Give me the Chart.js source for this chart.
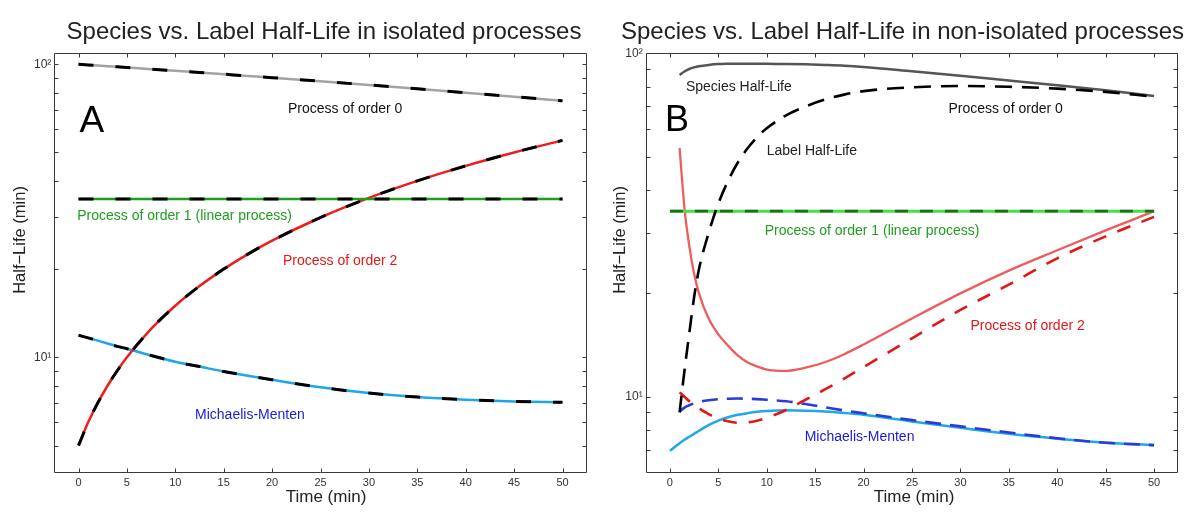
<!DOCTYPE html>
<html><head><meta charset="utf-8">
<script src="https://cdn.jsdelivr.net/npm/chart.js@4.4.1/dist/chart.umd.min.js"></script>
<style>
html,body{margin:0;padding:0;background:#fff;width:1200px;height:530px;overflow:hidden;position:relative}
canvas{position:absolute;top:0}
#ca{left:0}
#cb{left:604px}
</style></head><body>
<canvas id="ca" width="648" height="530"></canvas>
<canvas id="cb" width="596" height="530"></canvas>
<script>
// ---------- DATA ----------
const xTicks = [0, 5, 10, 15, 20, 25, 30, 35, 40, 45, 50];
const yMajor = [10, 100];
const yMajorLabels = ['10\u00B9', '10\u00B2'];
const yTicksA = [5, 6, 7, 8, 9, 10, 20, 30, 40, 50, 60, 70, 80, 90, 100];
const yTicksB = [7, 8, 9, 10, 20, 30, 40, 50, 60, 70, 80, 90, 100];

// Panel A: isolated processes (species and label half-lives coincide)
const timeA   = [0, 1, 2, 3, 4, 5, 7.5, 10, 12.5, 15, 17.5, 20, 25, 30, 35, 40, 45, 50];
const order0A = [100, 99.5, 99, 98.5, 98, 97.5, 96.2, 95, 93.8, 92.5, 91.2, 90, 87.5, 85, 82.5, 80, 77.5, 75];
const order1A = [34.7, 34.7, 34.7, 34.7, 34.7, 34.7, 34.7, 34.7, 34.7, 34.7, 34.7, 34.7, 34.7, 34.7, 34.7, 34.7, 34.7, 34.7];
const order2A = [5, 6, 7, 8, 9, 10, 12.5, 15, 17.5, 20, 22.5, 25, 30, 35, 40, 45, 50, 55];
const mmA     = [11.9, 11.65, 11.4, 11.15, 10.9, 10.7, 10.15, 9.66, 9.3, 8.95, 8.65, 8.38, 7.9, 7.55, 7.32, 7.17, 7.07, 7.02];

// Panel B: non-isolated processes
const timeB      = [0, 1, 1.5, 2, 2.5, 3, 4, 5, 6, 7, 8, 9, 10, 12, 14, 16, 18, 20, 25, 30, 35, 40, 45, 50];
const species0B  = [null, 86.5, 88.5, 90, 91, 91.7, 92.5, 93, 93.2, 93.3, 93.3, 93.3, 93.2, 93.1, 92.9, 92.5, 92, 91.2, 88.6, 86, 83.3, 80.7, 78, 75.1];
const label0B    = [null, 9.0, 11.9, 15.3, 19.5, 23.5, 30, 36.5, 42.5, 48, 52.8, 57, 60.5, 66, 70, 73.3, 75.8, 77.6, 79.6, 80.3, 79.9, 78.9, 77.2, 74.8];
const order1B    = [34.7, 34.7, 34.7, 34.7, 34.7, 34.7, 34.7, 34.7, 34.7, 34.7, 34.7, 34.7, 34.7, 34.7, 34.7, 34.7, 34.7, 34.7, 34.7, 34.7, 34.7, 34.7, 34.7, 34.7];
const species2B  = [null, 53, 35.5, 27.5, 22.8, 20, 16.9, 15.2, 14.1, 13.2, 12.6, 12.25, 12.0, 11.9, 12.15, 12.6, 13.3, 14.2, 16.9, 20.0, 23.3, 26.7, 30.5, 34.7];
const label2B    = [null, 10.3, 10.0, 9.7, 9.45, 9.25, 8.9, 8.65, 8.48, 8.4, 8.42, 8.52, 8.68, 9.15, 9.8, 10.5, 11.3, 12.2, 14.8, 17.9, 21.2, 25.3, 29.3, 33.4];
const speciesMmB = [6.96, 7.32, 7.5, 7.65, 7.8, 7.96, 8.27, 8.52, 8.72, 8.86, 8.96, 9.04, 9.09, 9.13, 9.11, 9.06, 8.97, 8.86, 8.47, 8.12, 7.8, 7.55, 7.35, 7.23];
const labelMmB   = [null, 9.05, 9.3, 9.45, 9.57, 9.66, 9.77, 9.84, 9.87, 9.88, 9.87, 9.84, 9.8, 9.7, 9.52, 9.32, 9.12, 8.95, 8.55, 8.2, 7.87, 7.57, 7.35, 7.23];

// ---------- RENDERING ----------
const FONT = "'Liberation Sans', Arial, Helvetica, sans-serif";
Chart.defaults.font.family = FONT;

function pts(ts, ys) {
  return ts.map((t, i) => ({x: t, y: ys[i]})).filter(p => p.y !== null);
}
function solid(ts, ys, color, w) {
  return {data: pts(ts, ys), borderColor: color, borderWidth: w, order: 2, fill: false};
}
function dashed(ts, ys, color, w, dash) {
  return {data: pts(ts, ys), borderColor: color, borderWidth: w, borderDash: dash, order: 1, fill: false};
}

const boxPlugin = {
  id: 'box',
  afterDatasetsDraw(chart) {
    const {ctx, chartArea: a} = chart;
    const xs = chart.scales.x, ys = chart.scales.y;
    ctx.save();
    ctx.strokeStyle = '#3a3a3a';
    ctx.lineWidth = 1;
    const L = Math.round(a.left) + 0.5, R = Math.round(a.right) - 0.5;
    const T = Math.round(a.top) + 0.5, B = Math.round(a.bottom) - 0.5;
    ctx.beginPath();
    ctx.rect(L, T, R - L, B - T);
    xs.ticks.forEach(t => {
      const p = Math.round(xs.getPixelForValue(t.value)) + 0.5;
      ctx.moveTo(p, B); ctx.lineTo(p, B - 4);
      ctx.moveTo(p, T); ctx.lineTo(p, T + 4);
    });
    ys.ticks.forEach(t => {
      const p = Math.round(ys.getPixelForValue(t.value)) + 0.5;
      if (p < T || p > B) return;
      ctx.moveTo(L, p); ctx.lineTo(L + 4, p);
      ctx.moveTo(R, p); ctx.lineTo(R - 4, p);
    });
    ctx.stroke();
    ctx.restore();
  }
};

function notesPlugin(items, titles) {
  return {
    id: 'notes',
    afterDatasetsDraw(chart) {
      const {ctx} = chart;
      const xs = chart.scales.x, ys = chart.scales.y;
      ctx.save();
      ctx.textBaseline = 'alphabetic';
      ctx.textAlign = 'left';
      items.forEach(n => {
        ctx.font = n.size + 'px ' + FONT;
        ctx.fillStyle = n.color;
        ctx.fillText(n.text, xs.getPixelForValue(n.x), ys.getPixelForValue(n.y));
      });
      ctx.fillStyle = '#222';
      ctx.textAlign = 'center';
      ctx.font = '24px ' + FONT;
      ctx.fillText(titles.main.text, titles.main.cx, titles.main.base);
      ctx.font = '17px ' + FONT;
      ctx.fillText(titles.x.text, titles.x.cx, titles.x.base);
      ctx.translate(titles.y.base, titles.y.cy);
      ctx.rotate(-Math.PI / 2);
      ctx.font = '16.5px ' + FONT;
      ctx.fillText(titles.y.text, 0, 0);
      ctx.restore();
    }
  };
}

function makeChart(id, datasets, cfg) {
  return new Chart(document.getElementById(id), {
    type: 'line',
    data: {datasets},
    options: {
      responsive: false,
      animation: false,
      events: [],
      layout: {padding: {left: 0, right: cfg.padRight, top: 52.7, bottom: 0}},
      elements: {point: {radius: 0}, line: {cubicInterpolationMode: 'monotone', borderCapStyle: 'butt'}},
      plugins: {
        legend: {display: false},
        tooltip: {enabled: false},
        title: {display: false}
      },
      scales: {
        x: {
          type: 'linear', min: -2.5, max: 52.5,
          grid: {display: false, drawTicks: false}, border: {display: false},
          afterBuildTicks: s => { s.ticks = xTicks.map(v => ({value: v})); },
          afterFit: s => { s.height = 57.3; },
          ticks: {font: {size: 11}, color: '#333', padding: 4, maxRotation: 0, autoSkip: false}
        },
        y: {
          type: 'logarithmic', min: cfg.yMin, max: cfg.yMax,
          grid: {display: false, drawTicks: false}, border: {display: false},
          afterBuildTicks: s => { s.ticks = cfg.yTicks.map(v => ({value: v})); },
          afterFit: s => { s.width = cfg.yWidth; },
          ticks: {font: {size: 12}, color: '#333', padding: 3, autoSkip: false,
                  callback: v => { const i = yMajor.indexOf(Number(v)); return i >= 0 ? yMajorLabels[i] : ''; }}
        }
      }
    },
    plugins: [boxPlugin, notesPlugin(cfg.notes, cfg.titles)]
  });
}

const GREEN_TXT = '#1f9e1f', RED_TXT = '#e01818', BLUE_TXT = '#1a1ad8';

makeChart('ca', [
  dashed(timeA, order0A, '#000', 3, [15, 22]),
  dashed(timeA, order1A, '#000', 3, [15, 22]),
  dashed(timeA, order2A, '#000', 3, [15, 22]),
  dashed(timeA, mmA, '#000', 3, [15, 22]),
  solid(timeA, order0A, '#a3a3a3', 2.5),
  solid(timeA, order1A, '#1e9e1e', 2.5),
  solid(timeA, order2A, '#ee1d1d', 2.5),
  solid(timeA, mmA, '#1ea7e6', 2.5)
], {
  padRight: 61.3, yWidth: 54.3, yMin: 4.04, yMax: 109.5, yTicks: yTicksA,
  notes: [
    {text: 'A', x: 0.1, y: 58.7, size: 37, color: '#000'},
    {text: 'Process of order 0', x: 21.64, y: 68.2, size: 14, color: '#111'},
    {text: 'Process of order 1 (linear process)', x: -0.13, y: 29.4, size: 14, color: GREEN_TXT},
    {text: 'Process of order 2', x: 21.12, y: 20.65, size: 14, color: RED_TXT},
    {text: 'Michaelis-Menten', x: 12.04, y: 6.16, size: 14, color: BLUE_TXT}
  ],
  titles: {
    main: {text: 'Species vs. Label Half-Life in isolated processes', cx: 324, base: 38.5},
    x: {text: 'Time (min)', cx: 326, base: 502},
    y: {text: 'Half\u2212Life (min)', cy: 240, base: 25}
  }
});

makeChart('cb', [
  dashed(timeB, label0B, '#000', 2.6, [17, 10]),
  dashed(timeB, order1B, '#1c6e1c', 2.6, [13, 12]),
  dashed(timeB, label2B, '#e01818', 2.6, [14, 12]),
  dashed(timeB, labelMmB, '#2b3bdb', 2.6, [16, 9]),
  solid(timeB, species0B, '#555555', 2.5),
  solid(timeB, order1B, '#44e044', 3),
  solid(timeB, species2B, '#ee5c5c', 2.3),
  solid(timeB, speciesMmB, '#1ea8e8', 2.5)
], {
  padRight: 21.7, yWidth: 41.7, yMin: 6.01, yMax: 100.4, yTicks: yTicksB,
  notes: [
    {text: 'B', x: -0.5, y: 59.5, size: 36, color: '#000'},
    {text: 'Species Half-Life', x: 1.65, y: 77.7, size: 14, color: '#222'},
    {text: 'Label Half-Life', x: 10.0, y: 50.6, size: 14, color: '#222'},
    {text: 'Process of order 0', x: 28.76, y: 67.0, size: 14, color: '#111'},
    {text: 'Process of order 1 (linear process)', x: 9.79, y: 29.6, size: 14, color: GREEN_TXT},
    {text: 'Process of order 2', x: 31.03, y: 15.6, size: 14, color: RED_TXT},
    {text: 'Michaelis-Menten', x: 13.92, y: 7.43, size: 14, color: BLUE_TXT}
  ],
  titles: {
    main: {text: 'Species vs. Label Half-Life in non-isolated processes', cx: 298.5, base: 38.5},
    x: {text: 'Time (min)', cx: 310, base: 502},
    y: {text: 'Half\u2212Life (min)', cy: 240, base: 21}
  }
});
</script>
</body></html>
